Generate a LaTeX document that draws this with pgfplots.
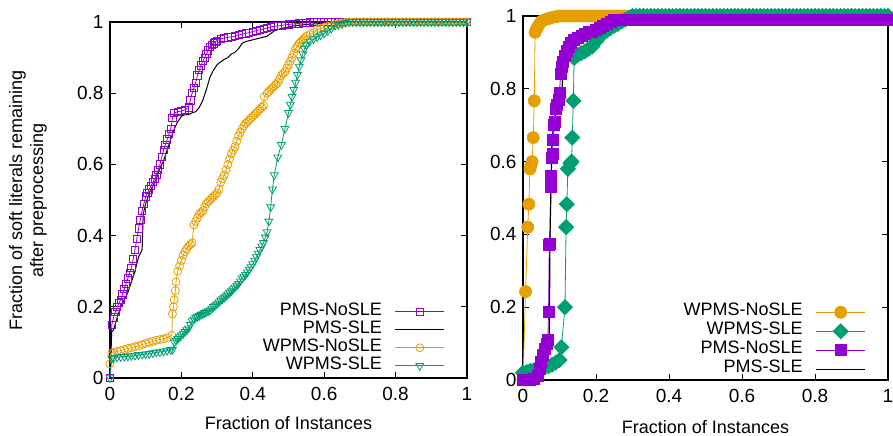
\documentclass[border=0pt]{standalone}
\usepackage{fontspec}
\setmainfont{Liberation Sans}
\usepackage{pgfplots}
\pgfplotsset{compat=1.18}
\definecolor{gpPurple}{HTML}{9400D3}
\definecolor{gpGreen}{HTML}{009E73}
\definecolor{gpOrange}{HTML}{E69F00}
\newcommand{\gpfont}{\fontsize{18bp}{21bp}\selectfont}
\newcommand{\gptickfont}{\fontsize{19bp}{21bp}\selectfont}
\pgfplotsset{
 gpbase/.style={
  scale only axis, xmin=0, xmax=1, ymin=0, ymax=1, clip=false,
  axis line style={line width=1.1bp},
  every tick/.style={black, line width=0.8bp},
  major tick length=6bp,
  tick align=inside,
  xtick={0,0.2,0.4,0.6,0.8,1}, ytick={0,0.2,0.4,0.6,0.8,1},
  /pgf/number format/assume math mode=true,
  tick label style={font=\gptickfont},
  xticklabel style={yshift=-6bp},
  yticklabel style={xshift=-3bp},
  label style={font=\gpfont},
  legend style={draw=none, fill=none, font=\gpfont, legend cell align=right,
    at={(1,0)}, anchor=south east, inner sep=0pt, row sep=0pt, column sep=13bp,
    nodes={inner sep=0pt, text height=12.5bp, text depth=5.5bp}},
  legend plot pos=right,
  legend image code/.code={\draw[mark repeat=2,mark phase=2] plot coordinates {(0bp,0bp) (24.5bp,0bp) (49bp,0bp)};},
 }
}
\begin{document}
\begin{tikzpicture}
\useasboundingbox (0,0) rectangle (893bp,-436bp);
% ---------------- left ----------------
\begin{axis}[gpbase, at={(110bp,-378bp)}, anchor=south west, width=357bp, height=356bp,
  xlabel={Fraction of Instances},
  xlabel style={at={(axis description cs:0.5,-0.126)}, anchor=center},
  ylabel={Fraction of soft literals remaining\\after preprocessing},
  ylabel style={align=center, at={(axis description cs:-0.23,0.5)}, anchor=center},
  legend style={xshift=-22bp, yshift=3bp}]
\addplot[color=gpPurple, line width=0.8bp, mark=square, mark size=3.6bp, mark options={line width=0.8bp}] coordinates {
(0,0) (0.005,0.15) (0.01,0.17) (0.015,0.185) (0.02,0.2) (0.025,0.21) (0.03,0.22) (0.035,0.235) (0.04,0.25) (0.045,0.265) (0.05,0.28) (0.055,0.295) (0.06,0.31) (0.065,0.335) (0.07,0.36) (0.075,0.39) (0.08,0.42) (0.085,0.445) (0.09,0.47) (0.095,0.49) (0.1,0.51) (0.105,0.52) (0.11,0.53) (0.115,0.54) (0.12,0.55) (0.125,0.56) (0.13,0.57) (0.135,0.585) (0.14,0.6) (0.145,0.62) (0.15,0.64) (0.155,0.655) (0.16,0.67) (0.165,0.685) (0.17,0.7) (0.175,0.73) (0.18,0.745) (0.19,0.748) (0.2,0.75) (0.21,0.753) (0.22,0.76) (0.225,0.78) (0.23,0.8) (0.235,0.815) (0.24,0.83) (0.245,0.85) (0.25,0.865) (0.255,0.878) (0.26,0.89) (0.265,0.9) (0.27,0.91) (0.275,0.92) (0.28,0.93) (0.285,0.935) (0.29,0.94) (0.295,0.944) (0.3,0.948) (0.31,0.952) (0.32,0.955) (0.33,0.957) (0.34,0.958) (0.35,0.96) (0.36,0.963) (0.37,0.966) (0.38,0.968) (0.39,0.97) (0.4,0.973) (0.41,0.976) (0.42,0.978) (0.43,0.98) (0.44,0.983) (0.45,0.986) (0.46,0.988) (0.47,0.989) (0.48,0.99) (0.49,0.992) (0.5,0.993) (0.51,0.994) (0.52,0.995) (0.53,0.996) (0.54,0.997) (0.55,0.998) (0.56,0.999)
(0.57,1) (0.58,1) (0.59,1) (0.6,1) (0.61,1) (0.62,1) (0.63,1) (0.64,1) (0.65,1) (0.66,1) (0.67,1) (0.68,1) (0.69,1) (0.7,1) (0.71,1) (0.72,1) (0.73,1) (0.74,1) (0.75,1) (0.76,1) (0.77,1) (0.78,1) (0.79,1) (0.8,1) (0.81,1) (0.82,1) (0.83,1) (0.84,1) (0.85,1) (0.86,1) (0.87,1) (0.88,1) (0.89,1) (0.9,1) (0.91,1) (0.92,1) (0.93,1) (0.94,1) (0.95,1) (0.96,1) (0.97,1) (0.98,1) (0.99,1) (1,1)};
\addlegendentry{PMS-NoSLE}
\addplot[color=black, line width=1bp] coordinates {
(0,0) (0.005,0.13) (0.01,0.135) (0.02,0.17) (0.03,0.2) (0.04,0.22) (0.05,0.24) (0.06,0.27) (0.07,0.3) (0.08,0.34) (0.09,0.36) (0.093,0.46) (0.1,0.49) (0.11,0.52) (0.12,0.54) (0.13,0.56) (0.14,0.59) (0.15,0.61) (0.16,0.64) (0.17,0.67) (0.18,0.7) (0.19,0.72) (0.2,0.735) (0.21,0.74) (0.22,0.74) (0.23,0.745) (0.24,0.748) (0.25,0.76) (0.26,0.78) (0.27,0.81) (0.28,0.845) (0.29,0.865) (0.3,0.88) (0.31,0.888) (0.32,0.895) (0.33,0.9) (0.34,0.91) (0.35,0.915) (0.36,0.925) (0.37,0.94) (0.38,0.945) (0.4,0.95) (0.42,0.955) (0.44,0.96) (0.46,0.975) (0.48,0.982) (0.5,0.986) (0.52,0.99) (0.55,0.993) (0.58,0.995) (0.62,1) (1,1)};
\addlegendentry{PMS-SLE}
\addplot[color=gpOrange, line width=0.8bp, mark=o, mark size=4bp, mark options={line width=0.8bp}] coordinates {
(0,0.04) (0.005,0.07) (0.01,0.072) (0.02,0.075) (0.03,0.077) (0.04,0.08) (0.05,0.083) (0.06,0.085) (0.07,0.088) (0.08,0.09) (0.09,0.094) (0.1,0.097) (0.11,0.1) (0.12,0.103) (0.13,0.106) (0.14,0.108) (0.15,0.11) (0.16,0.113) (0.173,0.12) (0.175,0.18) (0.178,0.2) (0.18,0.22) (0.183,0.245) (0.185,0.27) (0.19,0.3) (0.195,0.315) (0.2,0.33) (0.205,0.345) (0.21,0.355) (0.215,0.363) (0.22,0.37) (0.225,0.375) (0.23,0.38) (0.235,0.43) (0.24,0.44) (0.245,0.45) (0.25,0.46) (0.255,0.465) (0.26,0.47) (0.265,0.48) (0.27,0.49) (0.275,0.495) (0.28,0.5) (0.285,0.505) (0.29,0.51) (0.295,0.515) (0.3,0.52) (0.305,0.53) (0.31,0.55) (0.315,0.56) (0.32,0.57) (0.325,0.585) (0.33,0.6) (0.335,0.615) (0.34,0.63) (0.345,0.64) (0.35,0.65) (0.355,0.665) (0.36,0.68) (0.365,0.69) (0.37,0.7) (0.375,0.708) (0.38,0.715) (0.385,0.72) (0.39,0.725) (0.395,0.73) (0.4,0.735) (0.405,0.74) (0.41,0.745) (0.415,0.75) (0.42,0.755) (0.425,0.76) (0.43,0.765) (0.432,0.79) (0.44,0.8) (0.445,0.805) (0.45,0.81) (0.455,0.815) (0.46,0.82) (0.465,0.825) (0.47,0.83) (0.475,0.84) (0.48,0.85) (0.485,0.855) (0.49,0.86) (0.495,0.87) (0.5,0.88) (0.505,0.89) (0.51,0.9) (0.515,0.912) (0.52,0.925) (0.525,0.932) (0.53,0.94) (0.535,0.945) (0.54,0.95) (0.545,0.955) (0.55,0.96) (0.56,0.965) (0.57,0.97) (0.58,0.978) (0.59,0.982) (0.6,0.985) (0.61,0.988) (0.62,0.99) (0.63,0.993) (0.64,0.995) (0.65,0.997) (0.66,0.999)
(0.67,1) (0.68,1) (0.69,1) (0.7,1) (0.71,1) (0.72,1) (0.73,1) (0.74,1) (0.75,1) (0.76,1) (0.77,1) (0.78,1) (0.79,1) (0.8,1) (0.81,1) (0.82,1) (0.83,1) (0.84,1) (0.85,1) (0.86,1) (0.87,1) (0.88,1) (0.89,1) (0.9,1) (0.91,1) (0.92,1) (0.93,1) (0.94,1) (0.95,1) (0.96,1) (0.97,1) (0.98,1) (0.99,1) (1,1)};
\addlegendentry{WPMS-NoSLE}
\addplot[color=gpGreen, line width=0.8bp, mark=triangle, mark size=4.5bp, mark options={rotate=180, line width=0.8bp}] coordinates {
(0,0) (0.005,0.055) (0.01,0.056) (0.02,0.058) (0.03,0.059) (0.04,0.06) (0.05,0.061) (0.06,0.062) (0.07,0.063) (0.08,0.065) (0.09,0.066) (0.1,0.067) (0.11,0.068) (0.12,0.07) (0.13,0.072) (0.14,0.073) (0.15,0.075) (0.16,0.077) (0.17,0.079) (0.175,0.08) (0.18,0.1) (0.185,0.105) (0.19,0.11) (0.195,0.115) (0.2,0.12) (0.205,0.125) (0.21,0.13) (0.215,0.135) (0.22,0.14) (0.225,0.15) (0.23,0.16) (0.235,0.165) (0.24,0.17) (0.245,0.172) (0.25,0.175) (0.255,0.178) (0.26,0.18) (0.265,0.183) (0.27,0.185) (0.275,0.188) (0.28,0.19) (0.285,0.195) (0.29,0.2) (0.295,0.204) (0.3,0.208) (0.305,0.213) (0.31,0.218) (0.315,0.222) (0.32,0.226) (0.325,0.23) (0.33,0.235) (0.335,0.24) (0.34,0.244) (0.345,0.25) (0.35,0.255) (0.355,0.26) (0.36,0.265) (0.365,0.272) (0.37,0.28) (0.375,0.285) (0.38,0.29) (0.385,0.297) (0.39,0.305) (0.395,0.312) (0.4,0.32) (0.405,0.33) (0.41,0.34) (0.415,0.35) (0.42,0.36) (0.425,0.37) (0.43,0.38) (0.435,0.395) (0.44,0.41) (0.445,0.44) (0.45,0.48) (0.455,0.53) (0.46,0.57) (0.47,0.62) (0.48,0.655) (0.49,0.7) (0.5,0.745) (0.505,0.768) (0.51,0.79) (0.515,0.81) (0.52,0.83) (0.525,0.852) (0.53,0.875) (0.535,0.893) (0.54,0.91) (0.545,0.925) (0.55,0.935) (0.56,0.945) (0.57,0.952) (0.58,0.958) (0.59,0.963) (0.6,0.968) (0.61,0.975) (0.62,0.982) (0.63,0.99) (0.64,0.993) (0.65,0.995) (0.66,0.998)
(0.67,1) (0.68,1) (0.69,1) (0.7,1) (0.71,1) (0.72,1) (0.73,1) (0.74,1) (0.75,1) (0.76,1) (0.77,1) (0.78,1) (0.79,1) (0.8,1) (0.81,1) (0.82,1) (0.83,1) (0.84,1) (0.85,1) (0.86,1) (0.87,1) (0.88,1) (0.89,1) (0.9,1) (0.91,1) (0.92,1) (0.93,1) (0.94,1) (0.95,1) (0.96,1) (0.97,1) (0.98,1) (0.99,1) (1,1)};
\addlegendentry{WPMS-SLE}
\end{axis}
% ---------------- right ----------------
\begin{axis}[gpbase, at={(523bp,-380bp)}, anchor=south west, width=365bp, height=364bp,
  xlabel={Fraction of Instances},
  xlabel style={at={(axis description cs:0.5,-0.129)}, anchor=center},
  legend style={xshift=-22bp, yshift=1bp, nodes={text height=13bp, text depth=6bp}}]
\addplot[color=gpOrange, line width=0.8bp, mark=*, mark size=6bp, mark options={draw=gpOrange, fill=gpOrange}] coordinates {
(0,0) (0.007,0.243) (0.013,0.42) (0.016,0.483) (0.019,0.58) (0.022,0.59) (0.025,0.6) (0.028,0.666) (0.031,0.767) (0.033,0.955) (0.036,0.962) (0.04,0.97) (0.045,0.978) (0.05,0.985) (0.06,0.99) (0.07,0.993) (0.08,0.996) (0.09,0.998)
(0.1,1) (0.11,1) (0.12,1) (0.13,1) (0.14,1) (0.15,1) (0.16,1) (0.17,1) (0.18,1) (0.19,1) (0.2,1) (0.21,1) (0.22,1) (0.23,1) (0.24,1) (0.25,1) (0.26,1) (0.27,1) (0.28,1) (0.29,1) (0.3,1) (0.31,1) (0.32,1) (0.33,1) (0.34,1) (0.35,1) (0.36,1) (0.37,1) (0.38,1) (0.39,1) (0.4,1) (0.41,1) (0.42,1) (0.43,1) (0.44,1) (0.45,1) (0.46,1) (0.47,1) (0.48,1) (0.49,1) (0.5,1) (0.51,1) (0.52,1) (0.53,1) (0.54,1) (0.55,1) (0.56,1) (0.57,1) (0.58,1) (0.59,1) (0.6,1) (0.61,1) (0.62,1) (0.63,1) (0.64,1) (0.65,1) (0.66,1) (0.67,1) (0.68,1) (0.69,1) (0.7,1) (0.71,1) (0.72,1) (0.73,1) (0.74,1) (0.75,1) (0.76,1) (0.77,1) (0.78,1) (0.79,1) (0.8,1) (0.81,1) (0.82,1) (0.83,1) (0.84,1) (0.85,1) (0.86,1) (0.87,1) (0.88,1) (0.89,1) (0.9,1) (0.91,1) (0.92,1) (0.93,1) (0.94,1) (0.95,1) (0.96,1) (0.97,1) (0.98,1) (0.99,1) (1,1)};
\addlegendentry{WPMS-NoSLE}
\addplot[color=gpGreen, line width=0.8bp, mark=square*, mark size=5.3bp, mark options={rotate=45, draw=gpGreen, fill=gpGreen}] coordinates {
(0,0.02) (0.01,0.022) (0.02,0.025) (0.03,0.027) (0.04,0.03) (0.05,0.032) (0.06,0.035) (0.07,0.038) (0.08,0.042) (0.09,0.048) (0.1,0.055) (0.105,0.09) (0.115,0.2) (0.118,0.42) (0.12,0.483) (0.123,0.58) (0.13,0.595) (0.133,0.6) (0.135,0.666) (0.138,0.767) (0.14,0.885) (0.15,0.893) (0.16,0.898) (0.17,0.903) (0.18,0.91) (0.19,0.916) (0.2,0.93) (0.21,0.943) (0.22,0.952) (0.23,0.96) (0.24,0.967) (0.25,0.973) (0.26,0.978) (0.27,0.985) (0.28,0.99) (0.29,0.995)
(0.3,1) (0.31,1) (0.32,1) (0.33,1) (0.34,1) (0.35,1) (0.36,1) (0.37,1) (0.38,1) (0.39,1) (0.4,1) (0.41,1) (0.42,1) (0.43,1) (0.44,1) (0.45,1) (0.46,1) (0.47,1) (0.48,1) (0.49,1) (0.5,1) (0.51,1) (0.52,1) (0.53,1) (0.54,1) (0.55,1) (0.56,1) (0.57,1) (0.58,1) (0.59,1) (0.6,1) (0.61,1) (0.62,1) (0.63,1) (0.64,1) (0.65,1) (0.66,1) (0.67,1) (0.68,1) (0.69,1) (0.7,1) (0.71,1) (0.72,1) (0.73,1) (0.74,1) (0.75,1) (0.76,1) (0.77,1) (0.78,1) (0.79,1) (0.8,1) (0.81,1) (0.82,1) (0.83,1) (0.84,1) (0.85,1) (0.86,1) (0.87,1) (0.88,1) (0.89,1) (0.9,1) (0.91,1) (0.92,1) (0.93,1) (0.94,1) (0.95,1) (0.96,1) (0.97,1) (0.98,1) (0.99,1) (1,1)};
\addlegendentry{WPMS-SLE}
\addplot[color=gpPurple, line width=0.8bp, mark=square*, mark size=5.5bp, mark options={draw=gpPurple, fill=gpPurple}] coordinates {
(0,0) (0.01,0) (0.02,0) (0.03,0.002) (0.04,0.01) (0.045,0.03) (0.05,0.05) (0.055,0.07) (0.06,0.085) (0.065,0.1) (0.068,0.11) (0.07,0.188) (0.072,0.37) (0.074,0.375) (0.076,0.53) (0.077,0.56) (0.079,0.61) (0.081,0.62) (0.083,0.66) (0.086,0.7) (0.088,0.71) (0.09,0.745) (0.093,0.755) (0.097,0.77) (0.1,0.79) (0.103,0.84) (0.106,0.86) (0.11,0.875) (0.115,0.89) (0.12,0.905) (0.125,0.915) (0.13,0.925) (0.14,0.935) (0.15,0.94) (0.16,0.945) (0.17,0.95) (0.18,0.955) (0.19,0.957) (0.2,0.962) (0.21,0.967) (0.22,0.972) (0.23,0.978) (0.24,0.985) (0.25,0.988)
(0.26,0.99) (0.27,0.99) (0.28,0.99) (0.29,0.99) (0.3,0.99) (0.31,0.99) (0.32,0.99) (0.33,0.99) (0.34,0.99) (0.35,0.99) (0.36,0.99) (0.37,0.99) (0.38,0.99) (0.39,0.99) (0.4,0.99) (0.41,0.99) (0.42,0.99) (0.43,0.99) (0.44,0.99) (0.45,0.99) (0.46,0.99) (0.47,0.99) (0.48,0.99) (0.49,0.99) (0.5,0.99) (0.51,0.99) (0.52,0.99) (0.53,0.99) (0.54,0.99) (0.55,0.99) (0.56,0.99) (0.57,0.99) (0.58,0.99) (0.59,0.99) (0.6,0.99) (0.61,0.99) (0.62,0.99) (0.63,0.99) (0.64,0.99) (0.65,0.99) (0.66,0.99) (0.67,0.99) (0.68,0.99) (0.69,0.99) (0.7,0.99) (0.71,0.99) (0.72,0.99) (0.73,0.99) (0.74,0.99) (0.75,0.99) (0.76,0.99) (0.77,0.99) (0.78,0.99) (0.79,0.99) (0.8,0.99) (0.81,0.99) (0.82,0.99) (0.83,0.99) (0.84,0.99) (0.85,0.99) (0.86,0.99) (0.87,0.99) (0.88,0.99) (0.89,0.99) (0.9,0.99) (0.91,0.99) (0.92,0.99) (0.93,0.99) (0.94,0.99) (0.95,0.99) (0.96,0.99) (0.97,0.99) (0.98,0.99) (0.99,0.99) (1,0.99)};
\addlegendentry{PMS-NoSLE}
\addplot[color=black, line width=1.2bp] coordinates {
(0,0) (0.037,0.005) (0.045,0.015) (0.056,0.027) (0.06,0.05) (0.065,0.073) (0.072,0.11) (0.074,0.4) (0.079,0.64) (0.083,0.696) (0.086,0.71) (0.092,0.75) (0.1,0.76) (0.106,0.788) (0.109,0.833) (0.115,0.85) (0.12,0.87) (0.125,0.9) (0.129,0.916) (0.14,0.925) (0.156,0.934) (0.17,0.94) (0.184,0.943) (0.2,0.95) (0.211,0.957) (0.225,0.965) (0.238,0.975) (0.25,0.985) (0.257,0.993) (0.265,1) (1,1)};
\addlegendentry{PMS-SLE}
\end{axis}
\end{tikzpicture}
\end{document}
